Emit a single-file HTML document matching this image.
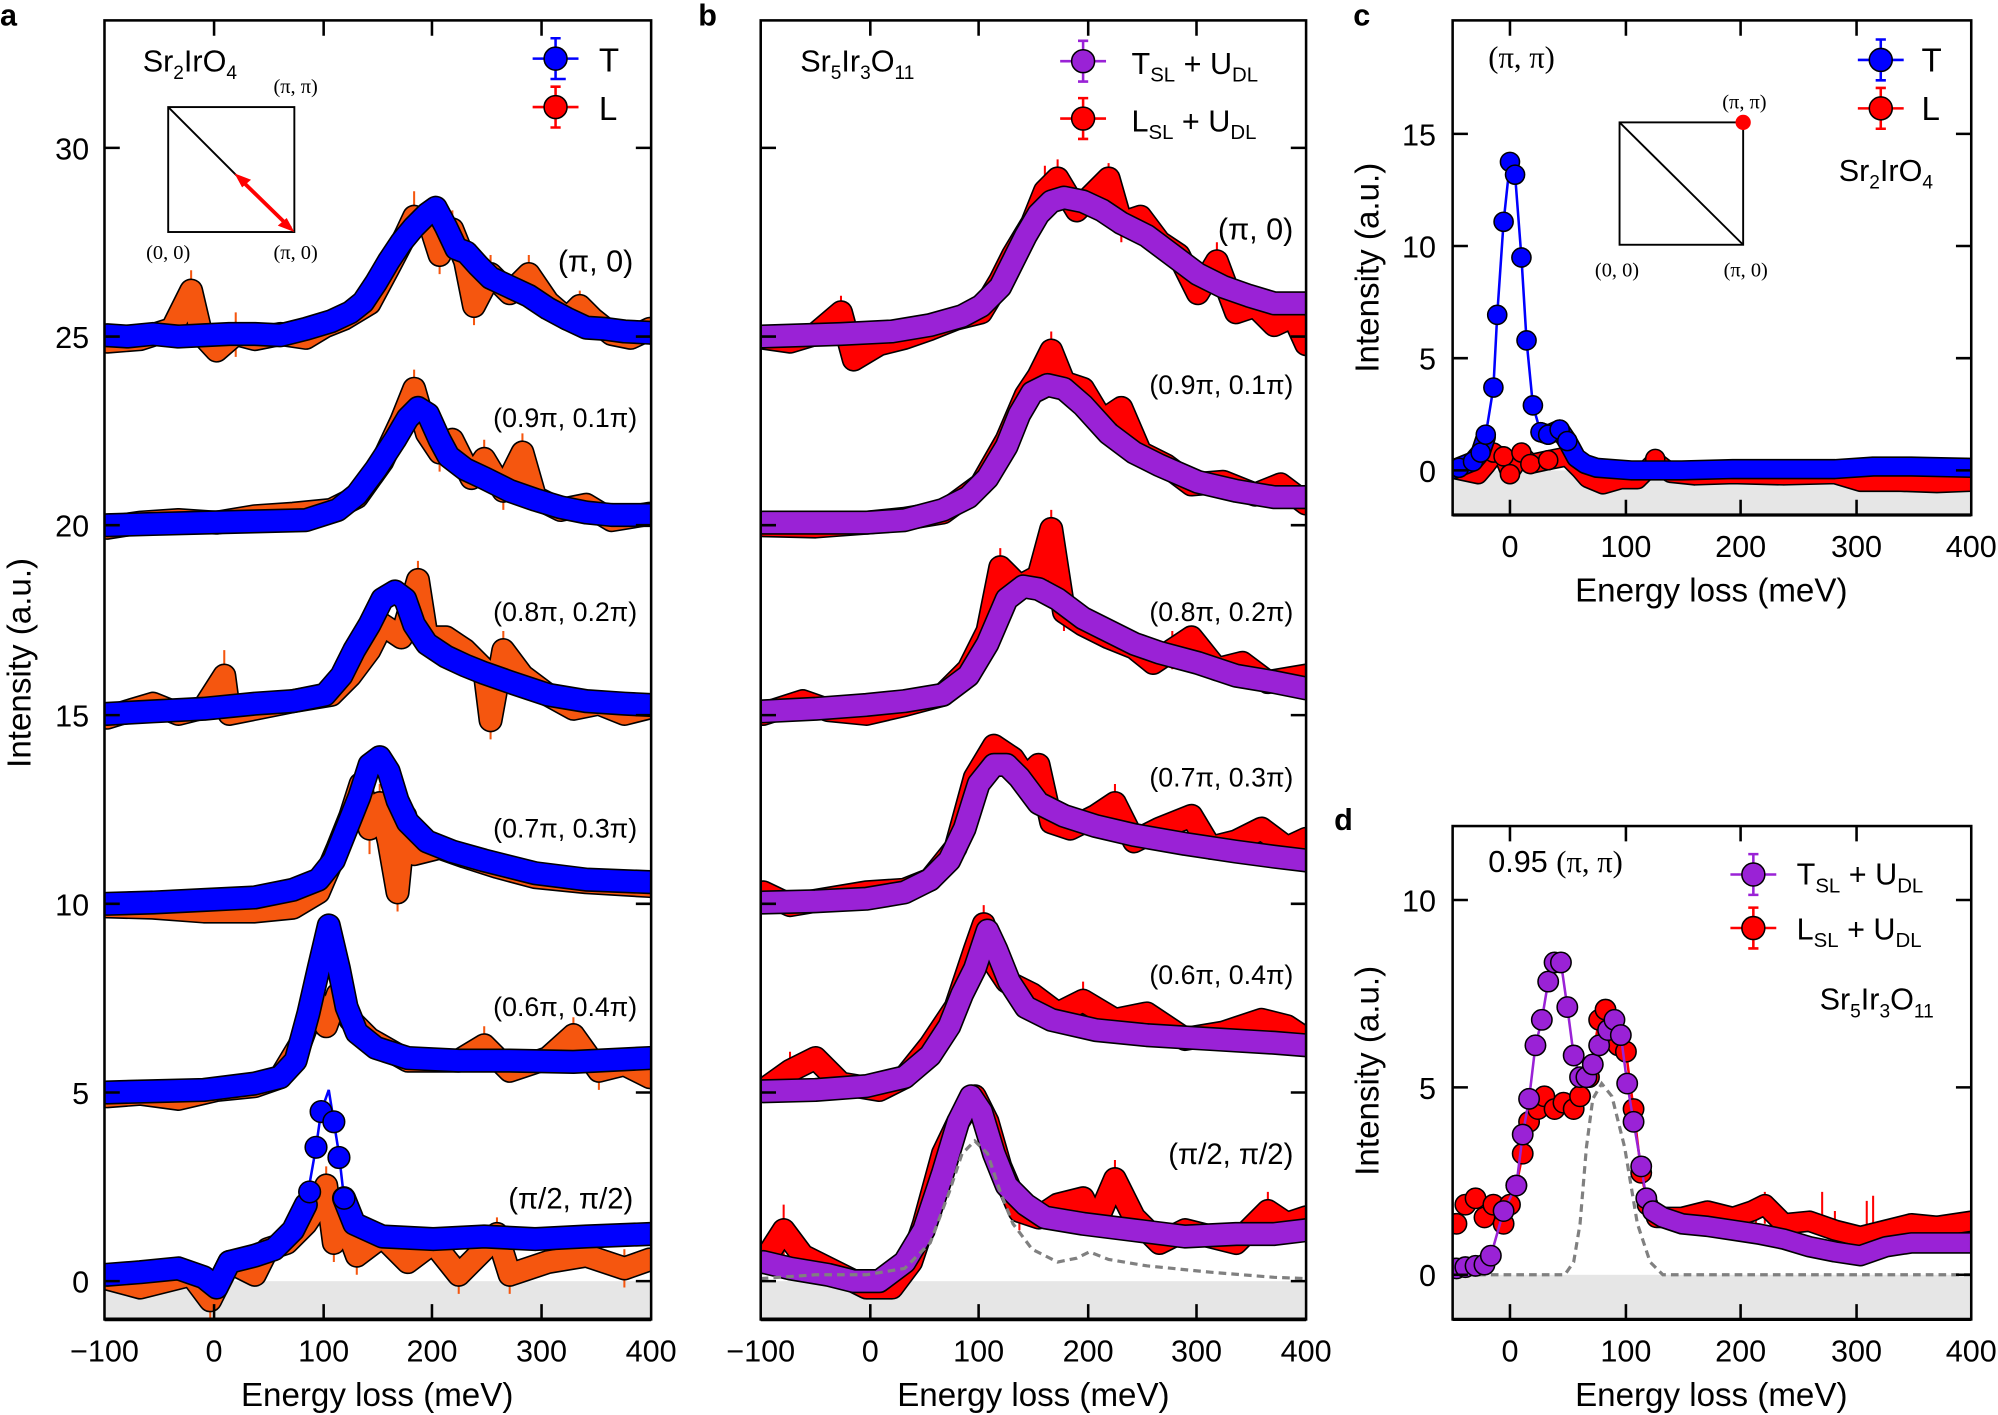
<!DOCTYPE html>
<html><head><meta charset="utf-8"><style>
html,body{margin:0;padding:0;background:#fff;}
svg{display:block;}
text{font-family:"Liberation Sans",Arial,sans-serif;fill:#000;}
.serif{font-family:"Liberation Serif","Times New Roman",serif;}
.k{fill:none;stroke:#000;stroke-width:19;stroke-linejoin:round;stroke-linecap:round}
.o{fill:none;stroke:#f5560f;stroke-width:16.5;stroke-linejoin:round;stroke-linecap:round}
.bl{fill:none;stroke:#0000ff;stroke-width:16.5;stroke-linejoin:round;stroke-linecap:round}
.r{fill:none;stroke:#ff0000;stroke-width:16.5;stroke-linejoin:round;stroke-linecap:round}
.p{fill:none;stroke:#9a22d6;stroke-width:16.5;stroke-linejoin:round;stroke-linecap:round}
.eo{fill:none;stroke:#f5560f;stroke-width:1.6}
.er{fill:none;stroke:#ff0000;stroke-width:1.6}
.dash{fill:none;stroke:#808080;stroke-width:2.5;stroke-dasharray:6,4}
</style></head><body>
<svg xmlns="http://www.w3.org/2000/svg" width="1998" height="1415" viewBox="0 0 1568 1110" preserveAspectRatio="none">
<defs>
<clipPath id="ca"><rect x="82" y="16" width="429" height="1019"/></clipPath>
<clipPath id="cb"><rect x="597" y="16" width="428" height="1019"/></clipPath>
<clipPath id="cc"><rect x="1140" y="16" width="407" height="388"/></clipPath>
<clipPath id="cd"><rect x="1140" y="648" width="407" height="387"/></clipPath>
</defs>
<rect x="82" y="1005" width="429" height="30" fill="#e6e6e6"/>
<rect x="597" y="1005" width="428" height="30" fill="#e6e6e6"/>
<rect x="1140" y="369" width="407" height="35" fill="#e6e6e6"/>
<rect x="1140" y="1000" width="407" height="35" fill="#e6e6e6"/>

<!-- Panel a data -->
<g clip-path="url(#ca)">
<path class="eo" d="M150 212V240 M185 245V280 M305 195V225 M325 150V190 M345 185V215 M355 165V195 M372 225V255 M385 200V230 M415 200V230 M455 228V252 M325 290V320 M345 340V370 M380 345V375 M395 370V400 M410 340V370 M176 510V550 M328 440V470 M385 550V580 M395 495V525 M265 650V680 M283 600V630 M290 630V670 M298 615V645 M312 685V715 M318 625V655 M235 805V835 M248 770V800 M265 765V795 M380 805V835 M450 798V826 M470 825V855 M165 1005V1035 M256 915V945 M262 960V990 M280 970V1000 M360 985V1015 M390 955V985 M400 985V1015 M490 980V1010"/>
<polyline class="k" points="84,268 110,266 135,258 150,228 158,262 170,275 185,262 200,266 220,262 240,265 255,256 270,250 290,238 305,210 318,185 325,170 338,178 345,200 355,180 365,205 372,240 385,215 400,230 415,215 430,237 445,250 455,240 465,250 480,262 495,265 510,258"/>
<polyline class="o" points="84,268 110,266 135,258 150,228 158,262 170,275 185,262 200,266 220,262 240,265 255,256 270,250 290,238 305,210 318,185 325,170 338,178 345,200 355,180 365,205 372,240 385,215 400,230 415,215 430,237 445,250 455,240 465,250 480,262 495,265 510,258"/>
<polyline class="k" points="84,263 100,264 120,262 140,264 160,263 180,262 200,262 220,263 240,258 260,252 275,245 285,237 295,222 305,205 315,190 325,178 335,168 342,163 350,178 358,195 366,198 375,208 385,218 400,225 415,232 430,242 445,250 460,257 475,258 490,260 510,261"/>
<polyline class="bl" points="84,263 100,264 120,262 140,264 160,263 180,262 200,262 220,263 240,258 260,252 275,245 285,237 295,222 305,205 315,190 325,178 335,168 342,163 350,178 358,195 366,198 375,208 385,218 400,225 415,232 430,242 445,250 460,257 475,258 490,260 510,261"/>

<polyline class="k" points="84,414 110,410 140,408 170,410 200,405 230,403 260,400 280,390 300,362 315,330 325,305 335,340 345,355 355,345 370,375 380,360 395,385 410,355 420,390 440,400 460,396 480,408 510,403"/>
<polyline class="o" points="84,414 110,410 140,408 170,410 200,405 230,403 260,400 280,390 300,362 315,330 325,305 335,340 345,355 355,345 370,375 380,360 395,385 410,355 420,390 440,400 460,396 480,408 510,403"/>
<polyline class="k" points="84,412 120,411 160,410 200,409 240,408 265,400 280,388 295,368 310,345 320,328 328,320 336,325 345,345 352,358 365,368 380,375 400,385 420,392 440,398 460,402 480,404 510,404"/>
<polyline class="bl" points="84,412 120,411 160,410 200,409 240,408 265,400 280,388 295,368 310,345 320,328 328,320 336,325 345,345 352,358 365,368 380,375 400,385 420,392 440,398 460,402 480,404 510,404"/>

<polyline class="k" points="84,563 100,558 120,552 140,560 160,555 176,530 180,560 200,556 230,550 260,545 275,530 290,510 300,490 315,500 328,455 335,500 350,500 365,510 380,525 385,565 395,510 410,530 430,545 450,556 470,552 490,560 510,555"/>
<polyline class="o" points="84,563 100,558 120,552 140,560 160,555 176,530 180,560 200,556 230,550 260,545 275,530 290,510 300,490 315,500 328,455 335,500 350,500 365,510 380,525 385,565 395,510 410,530 430,545 450,556 470,552 490,560 510,555"/>
<polyline class="k" points="84,560 120,558 160,556 200,552 230,550 255,545 268,530 278,510 290,490 300,470 310,464 318,470 325,490 335,505 350,515 365,522 380,528 400,535 430,545 460,550 490,552 510,553"/>
<polyline class="bl" points="84,560 120,558 160,556 200,552 230,550 255,545 268,530 278,510 290,490 300,470 310,464 318,470 325,490 335,505 350,515 365,522 380,528 400,535 430,545 460,550 490,552 510,553"/>

<polyline class="k" points="84,711 120,712 160,715 200,715 230,712 250,700 265,665 275,640 283,615 290,650 298,630 305,660 312,700 318,640 325,670 345,665 365,672 390,680 420,688 460,692 510,695"/>
<polyline class="o" points="84,711 120,712 160,715 200,715 230,712 250,700 265,665 275,640 283,615 290,650 298,630 305,660 312,700 318,640 325,670 345,665 365,672 390,680 420,688 460,692 510,695"/>
<polyline class="k" points="84,709 120,708 160,706 200,704 230,698 250,690 262,675 272,650 282,625 290,600 298,594 305,605 312,628 320,645 335,660 355,668 380,675 420,685 460,690 510,692"/>
<polyline class="bl" points="84,709 120,708 160,706 200,704 230,698 250,690 262,675 272,650 282,625 290,600 298,594 305,605 312,628 320,645 335,660 355,668 380,675 420,685 460,690 510,692"/>

<polyline class="k" points="84,860 110,858 140,862 170,855 200,852 220,845 235,820 248,785 256,805 265,780 275,800 290,815 320,832 360,832 380,820 400,840 430,830 450,812 470,840 490,835 510,845"/>
<polyline class="o" points="84,860 110,858 140,862 170,855 200,852 220,845 235,820 248,785 256,805 265,780 275,800 290,815 320,832 360,832 380,820 400,840 430,830 450,812 470,840 490,835 510,845"/>
<polyline class="k" points="84,857 120,856 160,855 200,850 220,845 232,832 242,795 250,760 258,726 266,760 272,790 280,810 295,822 320,830 360,832 400,832 450,833 510,830"/>
<polyline class="bl" points="84,857 120,856 160,855 200,850 220,845 232,832 242,795 250,760 258,726 266,760 272,790 280,810 295,822 320,830 360,832 400,832 450,833 510,830"/>

<polyline class="k" points="84,1003 110,1010 130,1005 150,1000 165,1020 180,990 200,1000 210,980 225,975 240,960 250,945 256,930 262,975 270,958 280,985 300,970 320,990 340,975 360,1000 380,980 390,968 400,1000 430,990 460,985 490,995 510,988"/>
<polyline class="o" points="84,1003 110,1010 130,1005 150,1000 165,1020 180,990 200,1000 210,980 225,975 240,960 250,945 256,930 262,975 270,958 280,985 300,970 320,990 340,975 360,1000 380,980 390,968 400,1000 430,990 460,985 490,995 510,988"/>
<polyline points="230,965 240,945 248,900 252,872 258,855 262,880 266,905 270,940 278,960" fill="none" stroke="#0000ff" stroke-width="2"/>
<polyline class="k" points="84,1000 110,998 140,995 160,1002 170,1010 180,990 200,985 215,980 230,965 240,945"/>
<polyline class="bl" points="84,1000 110,998 140,995 160,1002 170,1010 180,990 200,985 215,980 230,965 240,945"/>
<polyline class="k" points="270,940 278,960 300,970 340,972 380,970 420,972 460,970 510,968"/>
<polyline class="bl" points="270,940 278,960 300,970 340,972 380,970 420,972 460,970 510,968"/>
<g fill="#0000ff" stroke="#000" stroke-width="1.2"><circle cx="248" cy="900" r="8.5"/><circle cx="252" cy="872" r="8.5"/><circle cx="262" cy="880" r="8.5"/><circle cx="266" cy="908" r="8.5"/><circle cx="243" cy="935" r="8.5"/><circle cx="270" cy="940" r="8.5"/></g>
</g>

<!-- Panel b data -->
<g clip-path="url(#cb)">
<path class="er" d="M660 232V258 M820 130V165 M830 125V155 M870 128V155 M880 160V190 M955 190V220 M825 260V290 M785 430V460 M825 400V430 M835 465V495 M920 495V525 M765 595V625 M805 595V625 M875 615V645 M620 825V855 M772 710V740 M850 770V800 M615 945V985 M725 945V975 M785 900V930 M800 935V965 M875 910V940 M995 935V965"/>
<polyline class="k" points="599,265 620,268 640,262 660,245 670,282 690,270 710,265 730,258 750,250 770,245 785,220 795,200 810,175 820,150 830,140 845,165 860,150 870,140 880,175 895,170 910,190 925,200 940,230 955,205 970,245 985,240 1000,255 1015,248 1025,270"/>
<polyline class="r" points="599,265 620,268 640,262 660,245 670,282 690,270 710,265 730,258 750,250 770,245 785,220 795,200 810,175 820,150 830,140 845,165 860,150 870,140 880,175 895,170 910,190 925,200 940,230 955,205 970,245 985,240 1000,255 1015,248 1025,270"/>
<polyline class="k" points="599,264 630,263 660,262 700,260 730,255 755,248 770,240 785,225 795,205 805,185 815,168 825,158 835,155 850,158 865,165 880,175 900,185 920,200 940,215 960,225 980,232 1000,238 1025,238"/>
<polyline class="p" points="599,264 630,263 660,262 700,260 730,255 755,248 770,240 785,225 795,205 805,185 815,168 825,158 835,155 850,158 865,165 880,175 900,185 920,200 940,215 960,225 980,232 1000,238 1025,238"/>

<polyline class="k" points="599,412 640,413 680,410 710,407 740,402 770,380 790,345 805,310 815,295 825,275 835,300 850,305 865,330 880,320 895,355 915,365 935,380 960,378 985,388 1005,380 1025,395"/>
<polyline class="r" points="599,412 640,413 680,410 710,407 740,402 770,380 790,345 805,310 815,295 825,275 835,300 850,305 865,330 880,320 895,355 915,365 935,380 960,378 985,388 1005,380 1025,395"/>
<polyline class="k" points="599,410 640,410 680,410 710,408 740,400 760,390 775,375 790,350 800,325 810,308 822,302 835,305 850,318 870,340 890,355 910,365 940,378 970,385 1000,390 1025,390"/>
<polyline class="p" points="599,410 640,410 680,410 710,408 740,400 760,390 775,375 790,350 800,325 810,308 822,302 835,305 850,318 870,340 890,355 910,365 940,378 970,385 1000,390 1025,390"/>

<polyline class="k" points="599,560 630,550 650,557 680,560 710,553 740,545 760,525 775,495 785,445 800,460 815,452 825,415 835,480 850,490 870,500 890,508 905,520 920,510 935,500 955,525 975,520 995,535 1025,530"/>
<polyline class="r" points="599,560 630,550 650,557 680,560 710,553 740,545 760,525 775,495 785,445 800,460 815,452 825,415 835,480 850,490 870,500 890,508 905,520 920,510 935,500 955,525 975,520 995,535 1025,530"/>
<polyline class="k" points="599,558 640,556 680,553 710,550 740,545 760,530 775,505 790,470 803,460 815,462 830,470 850,485 870,495 890,505 910,512 940,520 970,530 1000,535 1025,540"/>
<polyline class="p" points="599,558 640,556 680,553 710,550 740,545 760,530 775,505 790,470 803,460 815,462 830,470 850,485 870,495 890,505 910,512 940,520 970,530 1000,535 1025,540"/>

<polyline class="k" points="599,700 620,710 650,705 680,700 710,698 730,690 750,665 765,610 780,585 795,595 805,610 815,600 825,645 840,650 860,640 875,630 890,660 910,650 935,640 950,665 970,660 990,650 1010,665 1025,658"/>
<polyline class="r" points="599,700 620,710 650,705 680,700 710,698 730,690 750,665 765,610 780,585 795,595 805,610 815,600 825,645 840,650 860,640 875,630 890,660 910,650 935,640 950,665 970,660 990,650 1010,665 1025,658"/>
<polyline class="k" points="599,708 640,707 680,705 710,700 730,690 745,675 757,650 768,615 780,600 790,600 800,610 815,630 835,640 860,648 890,655 930,662 970,668 1000,672 1025,675"/>
<polyline class="p" points="599,708 640,707 680,705 710,700 730,690 745,675 757,650 768,615 780,600 790,600 800,610 815,630 835,640 860,648 890,655 930,662 970,668 1000,672 1025,675"/>

<polyline class="k" points="599,855 620,840 640,830 660,850 690,855 710,845 730,820 750,790 765,745 772,725 780,755 790,770 810,780 830,795 850,785 875,800 900,795 930,815 960,810 990,800 1010,805 1025,815"/>
<polyline class="r" points="599,855 620,840 640,830 660,850 690,855 710,845 730,820 750,790 765,745 772,725 780,755 790,770 810,780 830,795 850,785 875,800 900,795 930,815 960,810 990,800 1010,805 1025,815"/>
<polyline class="k" points="599,856 640,855 680,852 710,845 730,828 745,805 755,780 765,760 775,730 782,745 792,770 805,790 825,800 860,808 900,812 950,815 1000,818 1025,820"/>
<polyline class="p" points="599,856 640,855 680,852 710,845 730,828 745,805 755,780 765,760 775,730 782,745 792,770 805,790 825,800 860,808 900,812 950,815 1000,818 1025,820"/>

<polyline class="k" points="599,990 615,965 630,985 660,1000 680,1010 700,1010 715,990 725,960 740,905 752,880 765,860 775,880 785,915 800,950 815,955 830,945 850,940 860,960 875,925 890,955 910,975 930,965 950,970 970,975 995,950 1010,960 1025,955"/>
<polyline class="r" points="599,990 615,965 630,985 660,1000 680,1010 700,1010 715,990 725,960 740,905 752,880 765,860 775,880 785,915 800,950 815,955 830,945 850,940 860,960 875,925 890,955 910,975 930,965 950,970 970,975 995,950 1010,960 1025,955"/>
<polyline class="k" points="599,990 620,995 650,1000 670,1005 690,1005 710,990 725,965 740,920 752,880 762,860 770,872 780,905 790,930 805,945 820,955 850,960 890,965 930,970 970,968 1000,968 1025,965"/>
<polyline class="p" points="599,990 620,995 650,1000 670,1005 690,1005 710,990 725,965 740,920 752,880 762,860 770,872 780,905 790,930 805,945 820,955 850,960 890,965 930,970 970,968 1000,968 1025,965"/>
<polyline class="dash" points="597,1003 640,1000 680,1000 710,995 730,975 745,935 755,905 765,895 775,905 785,935 795,960 810,980 830,990 845,987 855,982 870,988 900,993 950,998 1000,1002 1025,1003"/>
</g>

<!-- Panel c data -->
<g clip-path="url(#cc)">
<polyline class="k" points="1141,368 1160,372 1166,365 1172,357 1180,358 1185,370 1194,357 1201,364 1215,361 1230,358 1240,368 1246,375 1258,380 1272,376 1285,376 1299,362 1311,371 1330,373 1360,372 1400,373 1440,372 1460,378 1490,378 1520,379 1547,378" style="stroke-width:16"/>
<polyline class="r" points="1141,368 1160,372 1166,365 1172,357 1180,358 1185,370 1194,357 1201,364 1215,361 1230,358 1240,368 1246,375 1258,380 1272,376 1285,376 1299,362 1311,371 1330,373 1360,372 1400,373 1440,372 1460,378 1490,378 1520,379 1547,378" style="stroke-width:13.5"/>
<g fill="#ff0000" stroke="#000" stroke-width="1.2"><circle cx="1172" cy="355" r="7.5"/><circle cx="1180" cy="358" r="7.5"/><circle cx="1185" cy="372" r="7.5"/><circle cx="1194" cy="355" r="7.5"/><circle cx="1201" cy="364" r="7.5"/><circle cx="1215" cy="361" r="7.5"/><circle cx="1299" cy="360" r="7.5"/></g>
<polyline points="1145,367 1156,362 1162,355 1166,341 1172,304 1175,247 1180,174 1185,127 1189,137 1194,202 1198,267 1203,318 1209,339" fill="none" stroke="#0000ff" stroke-width="2"/>
<polyline class="k" points="1141,368 1156,362 1162,355 1166,343 M1209,339" style="stroke-width:16"/>
<polyline class="k" points="1209,339 1215,341 1224,337 1230,346 1237,359 1244,364 1253,367 1280,369 1320,369 1360,368 1400,368 1440,368 1470,366 1500,366 1547,367" style="stroke-width:16"/>
<polyline class="bl" points="1209,339 1215,341 1224,337 1230,346 1237,359 1244,364 1253,367 1280,369 1320,369 1360,368 1400,368 1440,368 1470,366 1500,366 1547,367" style="stroke-width:13.5"/>
<polyline class="bl" points="1141,368 1156,362 1162,355 1166,343" style="stroke-width:13.5"/>
<g fill="#0000ff" stroke="#000" stroke-width="1.2"><circle cx="1145" cy="367" r="7.5"/><circle cx="1156" cy="362" r="7.5"/><circle cx="1162" cy="355" r="7.5"/><circle cx="1166" cy="341" r="7.5"/><circle cx="1172" cy="304" r="7.5"/><circle cx="1175" cy="247" r="7.5"/><circle cx="1180" cy="174" r="7.5"/><circle cx="1185" cy="127" r="7.5"/><circle cx="1189" cy="137" r="7.5"/><circle cx="1194" cy="202" r="7.5"/><circle cx="1198" cy="267" r="7.5"/><circle cx="1203" cy="318" r="7.5"/><circle cx="1209" cy="339" r="7.5"/><circle cx="1215" cy="341" r="7.5"/><circle cx="1224" cy="337" r="7.5"/><circle cx="1230" cy="346" r="7.5"/></g>
</g>

<!-- Panel d data -->
<g clip-path="url(#cd)">
<polyline class="dash" points="1140,1000 1228,1000 1235,990 1240,960 1245,900 1250,862 1257,850 1265,860 1275,900 1285,960 1295,990 1305,1000 1547,1000"/>
<path class="er" d="M1378,940V970 M1385,935V960 M1430,935V965 M1440,950V975 M1465,942V990 M1470,938V965"/>
<polyline points="1143,960 1150,945 1158,940 1165,955 1172,945 1180,960 1185,945 1190,930 1195,905 1200,880 1207,870 1212,860 1220,870 1227,865 1235,870 1240,860 1247,845 1255,800 1260,792 1265,808 1270,820 1276,825 1282,870 1288,920 1293,945 1300,955" fill="none" stroke="#ff0000" stroke-width="2"/>
<g fill="#ff0000" stroke="#000" stroke-width="1.2"><circle cx="1143" cy="960" r="8"/><circle cx="1150" cy="945" r="8"/><circle cx="1158" cy="940" r="8"/><circle cx="1165" cy="955" r="8"/><circle cx="1172" cy="945" r="8"/><circle cx="1180" cy="960" r="8"/><circle cx="1185" cy="945" r="8"/><circle cx="1190" cy="930" r="8"/><circle cx="1195" cy="905" r="8"/><circle cx="1200" cy="880" r="8"/><circle cx="1207" cy="870" r="8"/><circle cx="1212" cy="860" r="8"/><circle cx="1220" cy="870" r="8"/><circle cx="1227" cy="865" r="8"/><circle cx="1235" cy="870" r="8"/><circle cx="1240" cy="860" r="8"/><circle cx="1247" cy="845" r="8"/><circle cx="1255" cy="800" r="8"/><circle cx="1260" cy="792" r="8"/><circle cx="1265" cy="808" r="8"/><circle cx="1270" cy="820" r="8"/><circle cx="1276" cy="825" r="8"/><circle cx="1282" cy="870" r="8"/><circle cx="1288" cy="920" r="8"/><circle cx="1293" cy="945" r="8"/></g>
<polyline class="k" points="1300,955 1320,955 1340,950 1360,955 1375,950 1385,945 1400,960 1420,958 1440,965 1460,970 1480,965 1500,960 1520,962 1547,958" style="stroke-width:17"/>
<polyline class="r" points="1300,955 1320,955 1340,950 1360,955 1375,950 1385,945 1400,960 1420,958 1440,965 1460,970 1480,965 1500,960 1520,962 1547,958" style="stroke-width:14.5"/>
<polyline points="1143,995 1165,995 1170,985 1180,950 1190,930 1195,890 1200,862 1205,820 1210,800 1215,770 1220,755 1225,755 1230,790 1235,828 1240,845 1245,845 1250,835 1255,820 1262,808 1267,800 1272,812 1277,850 1282,880 1288,915 1292,940 1297,950" fill="none" stroke="#9a22d6" stroke-width="2"/>
<g fill="#9a22d6" stroke="#000" stroke-width="1.2"><circle cx="1143" cy="995" r="8"/><circle cx="1150" cy="994" r="8"/><circle cx="1158" cy="993" r="8"/><circle cx="1165" cy="992" r="8"/><circle cx="1170" cy="985" r="8"/><circle cx="1180" cy="950" r="8"/><circle cx="1190" cy="930" r="8"/><circle cx="1195" cy="890" r="8"/><circle cx="1200" cy="862" r="8"/><circle cx="1205" cy="820" r="8"/><circle cx="1210" cy="800" r="8"/><circle cx="1215" cy="770" r="8"/><circle cx="1220" cy="755" r="8"/><circle cx="1225" cy="755" r="8"/><circle cx="1230" cy="790" r="8"/><circle cx="1235" cy="828" r="8"/><circle cx="1240" cy="845" r="8"/><circle cx="1245" cy="845" r="8"/><circle cx="1250" cy="835" r="8"/><circle cx="1255" cy="820" r="8"/><circle cx="1262" cy="808" r="8"/><circle cx="1267" cy="800" r="8"/><circle cx="1272" cy="812" r="8"/><circle cx="1277" cy="850" r="8"/><circle cx="1282" cy="880" r="8"/><circle cx="1288" cy="915" r="8"/><circle cx="1292" cy="940" r="8"/></g>
<polyline class="k" points="1297,950 1305,955 1320,960 1340,962 1360,965 1380,968 1400,972 1420,978 1440,982 1460,985 1480,978 1500,975 1520,975 1547,975" style="stroke-width:17"/>
<polyline class="p" points="1297,950 1305,955 1320,960 1340,962 1360,965 1380,968 1400,972 1420,978 1440,982 1460,985 1480,978 1500,975 1520,975 1547,975" style="stroke-width:14.5"/>
</g>

<!-- axes -->
<g fill="none" stroke="#000" stroke-width="2">
<rect x="82" y="16" width="429" height="1019"/><line x1="82" x2="511" y1="1035" y2="1035" stroke-width="3"/>
<path d="M168 1035V1023 M254 1035V1023 M339 1035V1023 M425 1035V1023 M168 16V28 M254 16V28 M339 16V28 M425 16V28 M82 1005H94 M82 857H94 M82 709H94 M82 561H94 M82 412H94 M82 264H94 M82 116H94 M511 1005H499 M511 857H499 M511 709H499 M511 561H499 M511 412H499 M511 264H499 M511 116H499"/>
<rect x="597" y="16" width="428" height="1019"/><line x1="597" x2="1025" y1="1035" y2="1035" stroke-width="3"/>
<path d="M683 1035V1023 M768 1035V1023 M854 1035V1023 M939 1035V1023 M683 16V28 M768 16V28 M854 16V28 M939 16V28 M597 1005H609 M597 857H609 M597 709H609 M597 561H609 M597 412H609 M597 264H609 M597 116H609 M1025 1005H1013 M1025 857H1013 M1025 709H1013 M1025 561H1013 M1025 412H1013 M1025 264H1013 M1025 116H1013"/>
<rect x="1140" y="16" width="407" height="388"/><line x1="1140" x2="1547" y1="404" y2="404" stroke-width="2.5"/>
<path d="M1185 404V392 M1276 404V392 M1366 404V392 M1457 404V392 M1185 16V28 M1276 16V28 M1366 16V28 M1457 16V28 M1140 369H1152 M1140 281H1152 M1140 193H1152 M1140 105H1152 M1547 369H1535 M1547 281H1535 M1547 193H1535 M1547 105H1535"/>
<rect x="1140" y="648" width="407" height="387"/><line x1="1140" x2="1547" y1="1035" y2="1035" stroke-width="2.5"/>
<path d="M1185 1035V1023 M1276 1035V1023 M1366 1035V1023 M1457 1035V1023 M1185 648V660 M1276 648V660 M1366 648V660 M1457 648V660 M1140 1000H1152 M1140 853H1152 M1140 706H1152 M1547 1000H1535 M1547 853H1535 M1547 706H1535"/>
</g>

<!-- panel letters -->
<text x="0" y="20" font-size="24" font-weight="bold">a</text>
<text x="548" y="20" font-size="24" font-weight="bold">b</text>
<text x="1062" y="20" font-size="24" font-weight="bold">c</text>
<text x="1047" y="651" font-size="24" font-weight="bold">d</text>

<text transform="translate(24,520) rotate(-90)" text-anchor="middle" font-size="26">Intensity (a.u.)</text>
<text transform="translate(1082,210) rotate(-90)" text-anchor="middle" font-size="26">Intensity (a.u.)</text>
<text transform="translate(1082,840) rotate(-90)" text-anchor="middle" font-size="26">Intensity (a.u.)</text>

<text x="296" y="1103" text-anchor="middle" font-size="26">Energy loss (meV)</text>
<text x="811" y="1103" text-anchor="middle" font-size="26">Energy loss (meV)</text>
<text x="1343" y="472" text-anchor="middle" font-size="26">Energy loss (meV)</text>
<text x="1343" y="1103" text-anchor="middle" font-size="26">Energy loss (meV)</text>

<g font-size="24" text-anchor="end">
<text x="70" y="1014">0</text><text x="70" y="866">5</text><text x="70" y="718">10</text>
<text x="70" y="570">15</text><text x="70" y="421">20</text><text x="70" y="273">25</text><text x="70" y="125">30</text>
<text x="1127" y="378">0</text><text x="1127" y="290">5</text><text x="1127" y="202">10</text><text x="1127" y="114">15</text>
<text x="1127" y="1009">0</text><text x="1127" y="862">5</text><text x="1127" y="715">10</text>
</g>
<g font-size="24" text-anchor="middle">
<text x="82" y="1068">−100</text><text x="168" y="1068">0</text><text x="254" y="1068">100</text><text x="339" y="1068">200</text><text x="425" y="1068">300</text><text x="511" y="1068">400</text>
<text x="597" y="1068">−100</text><text x="683" y="1068">0</text><text x="768" y="1068">100</text><text x="854" y="1068">200</text><text x="939" y="1068">300</text><text x="1025" y="1068">400</text>
<text x="1185" y="437">0</text><text x="1276" y="437">100</text><text x="1366" y="437">200</text><text x="1457" y="437">300</text><text x="1547" y="437">400</text>
<text x="1185" y="1068">0</text><text x="1276" y="1068">100</text><text x="1366" y="1068">200</text><text x="1457" y="1068">300</text><text x="1547" y="1068">400</text>
</g>

<text x="112" y="56" font-size="24">Sr<tspan font-size="15" dy="6">2</tspan><tspan dy="-6">IrO</tspan><tspan font-size="15" dy="6">4</tspan></text>
<text x="628" y="56" font-size="24">Sr<tspan font-size="15" dy="6">5</tspan><tspan dy="-6">Ir</tspan><tspan font-size="15" dy="6">3</tspan><tspan dy="-6">O</tspan><tspan font-size="15" dy="6">11</tspan></text>
<text x="1443" y="142" font-size="24">Sr<tspan font-size="15" dy="6">2</tspan><tspan dy="-6">IrO</tspan><tspan font-size="15" dy="6">4</tspan></text>
<text x="1428" y="792" font-size="24">Sr<tspan font-size="15" dy="6">5</tspan><tspan dy="-6">Ir</tspan><tspan font-size="15" dy="6">3</tspan><tspan dy="-6">O</tspan><tspan font-size="15" dy="6">11</tspan></text>
<text x="1168" y="53" font-size="24" class="serif">(π, π)</text>
<text x="1168" y="684" font-size="24">0.95 <tspan class="serif">(π, π)</tspan></text>

<!-- legends -->
<g stroke-width="2" fill="none">
<path stroke="#0000ff" d="M418 46H454 M436 30V62 M432 30H440 M432 62H444"/>
<path stroke="#ff0000" d="M418 84H454 M436 68V100 M432 68H440 M432 100H440"/>
<path stroke="#9a22d6" d="M832 48H868 M850 32V64 M846 32H854 M846 64H854"/>
<path stroke="#ff0000" d="M832 93H868 M850 77V109 M846 77H854 M846 109H854"/>
<path stroke="#0000ff" d="M1458 47H1494 M1476 31V63 M1472 31H1480 M1472 63H1480"/>
<path stroke="#ff0000" d="M1458 85H1494 M1476 69V101 M1472 69H1480 M1472 101H1480"/>
<path stroke="#9a22d6" d="M1358 686H1394 M1376 670V702 M1372 670H1380 M1372 702H1380"/>
<path stroke="#ff0000" d="M1358 728H1394 M1376 712V744 M1372 712H1380 M1372 744H1380"/>
</g>
<g stroke="#000" stroke-width="1.2">
<circle cx="436" cy="46" r="9" fill="#0000ff"/><circle cx="436" cy="84" r="9" fill="#ff0000"/>
<circle cx="850" cy="48" r="9" fill="#9a22d6"/><circle cx="850" cy="93" r="9" fill="#ff0000"/>
<circle cx="1476" cy="47" r="9" fill="#0000ff"/><circle cx="1476" cy="85" r="9" fill="#ff0000"/>
<circle cx="1376" cy="686" r="9" fill="#9a22d6"/><circle cx="1376" cy="728" r="9" fill="#ff0000"/>
</g>
<text x="470" y="56" font-size="26">T</text>
<text x="470" y="94" font-size="26">L</text>
<text x="888" y="58" font-size="24">T<tspan font-size="16" dy="6">SL</tspan><tspan dy="-6"> + U</tspan><tspan font-size="16" dy="6">DL</tspan></text>
<text x="888" y="103" font-size="24">L<tspan font-size="16" dy="6">SL</tspan><tspan dy="-6"> + U</tspan><tspan font-size="16" dy="6">DL</tspan></text>
<text x="1508" y="56" font-size="26">T</text>
<text x="1508" y="94" font-size="26">L</text>
<text x="1410" y="694" font-size="24">T<tspan font-size="16" dy="6">SL</tspan><tspan dy="-6"> + U</tspan><tspan font-size="16" dy="6">DL</tspan></text>
<text x="1410" y="737" font-size="24">L<tspan font-size="16" dy="6">SL</tspan><tspan dy="-6"> + U</tspan><tspan font-size="16" dy="6">DL</tspan></text>

<g font-size="21" text-anchor="end">
<text x="497" y="213" font-size="24">(π, 0)</text>
<text x="500" y="335">(0.9π, 0.1π)</text>
<text x="500" y="487">(0.8π, 0.2π)</text>
<text x="500" y="657">(0.7π, 0.3π)</text>
<text x="500" y="797">(0.6π, 0.4π)</text>
<text x="497" y="948" font-size="23">(π/2, π/2)</text>
<text x="1015" y="188" font-size="24">(π, 0)</text>
<text x="1015" y="309">(0.9π, 0.1π)</text>
<text x="1015" y="487">(0.8π, 0.2π)</text>
<text x="1015" y="617">(0.7π, 0.3π)</text>
<text x="1015" y="772">(0.6π, 0.4π)</text>
<text x="1015" y="913" font-size="23">(π/2, π/2)</text>
</g>

<g fill="none" stroke="#000" stroke-width="1.5">
<rect x="132" y="84" width="99" height="98"/>
<line x1="132" y1="84" x2="186" y2="138"/>
<rect x="1271" y="96" width="97" height="96"/>
<line x1="1271" y1="96" x2="1368" y2="192"/>
</g>
<line x1="188" y1="140" x2="228" y2="179" stroke="#f00" stroke-width="3"/>
<polygon points="184,136 197,141 190,147" fill="#f00"/>
<polygon points="231,182 218,177 225,171" fill="#f00"/>
<circle cx="1368" cy="96" r="6" fill="#f00"/>
<g font-size="16" text-anchor="middle">
<text x="232" y="73" class="serif">(π, π)</text>
<text x="132" y="203" class="serif">(0, 0)</text>
<text x="232" y="203" class="serif">(π, 0)</text>
<text x="1369" y="85" class="serif">(π, π)</text>
<text x="1269" y="217" class="serif">(0, 0)</text>
<text x="1370" y="217" class="serif">(π, 0)</text>
</g>
</svg>
</body></html>
